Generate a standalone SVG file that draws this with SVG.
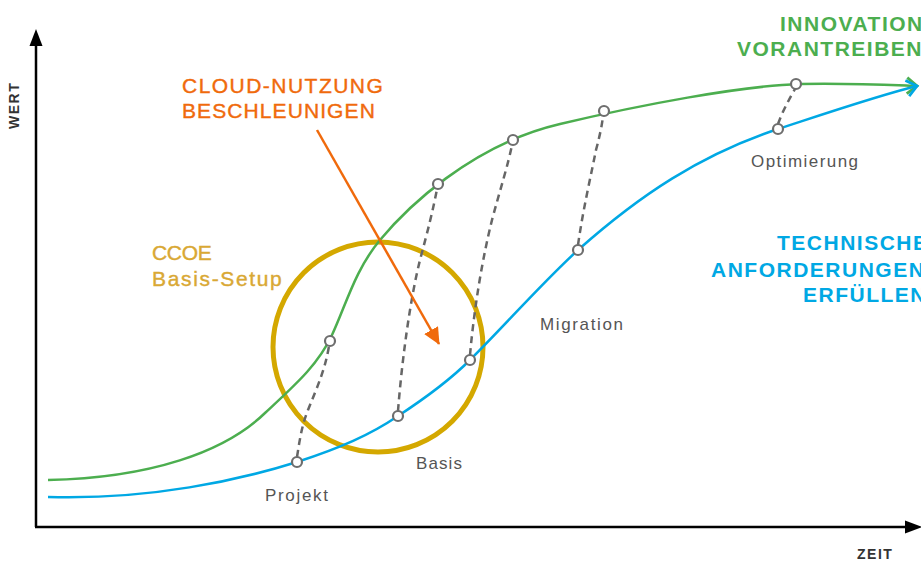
<svg xmlns="http://www.w3.org/2000/svg" width="921" height="561" viewBox="0 0 921 561">
<style>
.axis{stroke:#000;stroke-width:2.5;fill:none}
.green{stroke:#4cae4f;stroke-width:2.5;fill:none}
.blue{stroke:#00a8e4;stroke-width:2.5;fill:none}
.dash{stroke:#666;stroke-width:2.5;fill:none;stroke-dasharray:7 5}
.pt{stroke:#6e6e6e;stroke-width:2.2;fill:#fff}
.lbl{font-family:"Liberation Sans",Arial,sans-serif;font-size:17px;fill:#555}
.big{font-family:"Liberation Sans",Arial,sans-serif;font-size:21px;font-weight:bold;letter-spacing:1.5px}
.reg{font-family:"Liberation Sans",Arial,sans-serif;font-size:21px;letter-spacing:1.2px;stroke-width:0.4}
.ax{font-family:"Liberation Sans",Arial,sans-serif;font-size:14px;font-weight:bold;fill:#333;letter-spacing:1.5px}
</style>
<defs>
<marker id="chevG" markerWidth="18" markerHeight="20" refX="14" refY="10" orient="auto" markerUnits="userSpaceOnUse">
<polyline points="4,2 14,10 4,18" fill="none" stroke="#4cae4f" stroke-width="2.8"/>
</marker>
<marker id="chevB" markerWidth="18" markerHeight="20" refX="14" refY="10" orient="auto" markerUnits="userSpaceOnUse">
<polyline points="4,2 14,10 4,18" fill="none" stroke="#00a8e4" stroke-width="2.8"/>
</marker>
<marker id="triO" markerWidth="18" markerHeight="16" refX="16" refY="8" orient="auto" markerUnits="userSpaceOnUse">
<polygon points="0,0 17,8 0,16" fill="#f06a0c"/>
</marker>
</defs>

<g id="axes">
<line class="axis" x1="36" y1="527" x2="36" y2="44"/>
<polygon points="36,29 29.5,46 42.5,46" fill="#000"/>
<line class="axis" x1="35" y1="527" x2="906" y2="527"/>
<polygon points="922,527 905,520.5 905,533.5" fill="#000"/>
<text class="ax" transform="translate(19,129) rotate(-90)">WERT</text>
<text class="ax" x="857" y="559">ZEIT</text>
</g>

<g id="ccoe-circle">
<circle cx="378" cy="347" r="105" fill="none" stroke="#d4a800" stroke-width="5"/>
</g>

<g id="connectors">
<path id="green-curve" class="green" marker-end="url(#chevG)" d="M48,480 C150,478 225,452 265,413 C295,385 318,365 332,335 C346,305 355,270 380,240 C405,210 470,145 560,124 C640,105 740,86 800,84 C850,83 890,85 917,86"/>
<path id="blue-curve" class="blue" marker-end="url(#chevB)" d="M48,497 C150,500 240,480 297,462 C340,448 370,435 398,416 C430,395 450,380 470,360 C510,320 540,285 578,250 C640,195 700,155 778,129 C830,112 880,95 917,86"/>
<path class="dash" d="M297,457 C300,438 302,425 308,410 C318,385 325,370 329,346"/>
<path class="dash" d="M398,411 C402,360 410,300 420,260 C428,230 433,210 437,189"/>
<path class="dash" d="M470,355 C474,310 482,260 492,220 C500,190 508,165 512,145"/>
<path class="dash" d="M578,245 C583,210 590,180 596,150 C600,135 602,125 603,116"/>
<path class="dash" d="M778,124 C783,110 790,98 795,89"/>
<line x1="317" y1="130" x2="439" y2="344" stroke="#f06a0c" stroke-width="2.5" marker-end="url(#triO)"/>
</g>

<g id="points">
<circle class="pt" cx="297" cy="462" r="5"/>
<circle class="pt" cx="330" cy="341" r="5"/>
<circle class="pt" cx="398" cy="416" r="5"/>
<circle class="pt" cx="438" cy="184" r="5"/>
<circle class="pt" cx="470" cy="360" r="5"/>
<circle class="pt" cx="513" cy="140" r="5"/>
<circle class="pt" cx="578" cy="250" r="5"/>
<circle class="pt" cx="604" cy="111" r="5"/>
<circle class="pt" cx="778" cy="129" r="5"/>
<circle class="pt" cx="796" cy="84" r="5"/>
</g>

<g id="label-projekt"><text class="lbl" x="265" y="501" textLength="63" lengthAdjust="spacing">Projekt</text></g>
<g id="label-basis"><text class="lbl" x="416" y="469" textLength="46" lengthAdjust="spacing">Basis</text></g>
<g id="label-migration"><text class="lbl" x="540" y="330" textLength="83" lengthAdjust="spacing">Migration</text></g>
<g id="label-optimierung"><text class="lbl" x="751" y="167" textLength="107" lengthAdjust="spacing">Optimierung</text></g>

<g id="label-ccoe" fill="#d9a834" stroke="#d9a834">
<text class="reg" x="152" y="260" textLength="61" lengthAdjust="spacing">CCOE</text>
<text class="reg" x="152" y="286" textLength="131" lengthAdjust="spacing">Basis-Setup</text>
</g>

<g id="label-cloud" fill="#f06a0c" stroke="#f06a0c">
<text class="reg" x="182" y="93" textLength="202" lengthAdjust="spacing">CLOUD-NUTZUNG</text>
<text class="reg" x="182" y="118" textLength="194" lengthAdjust="spacing">BESCHLEUNIGEN</text>
</g>

<g id="label-innovation" fill="#4cae4f">
<text class="big" x="780" y="31">INNOVATION</text>
<text class="big" x="737" y="56">VORANTREIBEN</text>
</g>

<g id="label-technisch" fill="#00a8e4">
<text class="big" x="777" y="250">TECHNISCHE</text>
<text class="big" x="711" y="277">ANFORDERUNGEN</text>
<text class="big" x="803" y="302">ERFÜLLEN</text>
</g>
</svg>
